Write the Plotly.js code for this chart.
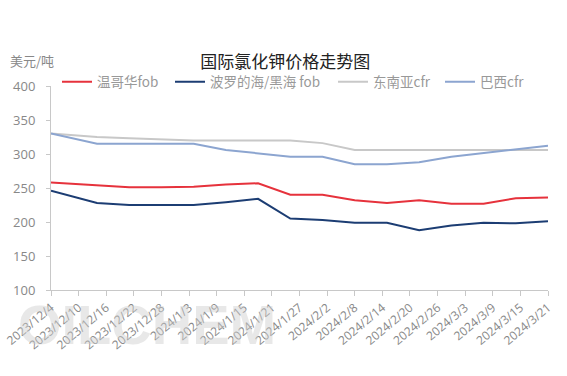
<!DOCTYPE html>
<html>
<head>
<meta charset="utf-8">
<script src="https://cdn.plot.ly/plotly-3.0.1.min.js"></script>
<style>html,body{margin:0;padding:0;background:#fff;}#chart{width:567px;height:376px;}</style>
</head>
<body>
<div id="chart"></div>
<script>
const dates = ['2023-12-04','2023-12-14','2023-12-21','2023-12-28','2024-01-04','2024-01-11','2024-01-18','2024-01-25','2024-02-01','2024-02-08','2024-02-15','2024-02-22','2024-02-29','2024-03-07','2024-03-14','2024-03-21'];
const vancouverFob = [258, 254, 251, 251, 252, 255, 257, 240, 240, 232, 228, 232, 227, 227, 235, 236];
const balticBlackSeaFob = [246, 228, 225, 225, 225, 229, 234, 205, 203, 199, 199, 188, 195, 199, 198, 201];
const seAsiaCfr = [330, 325, 323, 321, 320, 320, 320, 320, 316, 306, 306, 306, 306, 306, 306, 306];
const brazilCfr = [330, 315, 315, 315, 315, 306, 301, 296, 296, 285, 285, 288, 296, 301, 306, 312];
const tickDates = ['2023-12-04','2023-12-10','2023-12-16','2023-12-22','2023-12-28','2024-01-03','2024-01-09','2024-01-15','2024-01-21','2024-01-27','2024-02-02','2024-02-08','2024-02-14','2024-02-20','2024-02-26','2024-03-03','2024-03-09','2024-03-15','2024-03-21'];
const tickLabels = ['2023/12/4','2023/12/10','2023/12/16','2023/12/22','2023/12/28','2024/1/3','2024/1/9','2024/1/15','2024/1/21','2024/1/27','2024/2/2','2024/2/8','2024/2/14','2024/2/20','2024/2/26','2024/3/3','2024/3/9','2024/3/15','2024/3/21'];
const seriesNames = ['温哥华fob','波罗的海/黑海 fob','东南亚cfr','巴西cfr'];
const seriesColors = ['#e6323c','#1c3d73','#c8c8c8','#8ca5d0'];
const seriesValues = [vancouverFob, balticBlackSeaFob, seAsiaCfr, brazilCfr];
const legendIds = ['legend','legend2','legend3','legend4'];
const legendX = [57, 170, 333, 440];

const traces = seriesValues.map((v, i) => ({
  x: dates, y: v, type: 'scatter', mode: 'lines', name: seriesNames[i], legend: legendIds[i],
  line: {color: seriesColors[i], width: 2}, hoverinfo: 'skip'
}));

const layout = {
  width: 567, height: 376,
  margin: {l: 51, r: 19, t: 86, b: 86, autoexpand: false},
  paper_bgcolor: '#fff', plot_bgcolor: '#fff',
  font: {family: '"Noto Sans CJK SC", "Noto Sans", sans-serif', color: '#888', size: 12},
  title: {text: '国际氯化钾价格走势图', x: 0.503, xref: 'container', xanchor: 'center', y: 1 - 62/376, yref: 'container', yanchor: 'middle',
    font: {size: 17, color: '#222', family: '"Noto Sans CJK SC", sans-serif'}},
  showlegend: true,
  xaxis: {
    type: 'date', range: ['2023-12-04', '2024-03-21'],
    tickmode: 'array', tickvals: tickDates, ticktext: tickLabels, tickangle: -40,
    showgrid: false, zeroline: false, showline: true, linecolor: '#c8c8c8', linewidth: 1,
    ticks: 'outside', ticklen: 5, tickcolor: '#c8c8c8',
    tickfont: {size: 12, color: '#888', family: '"Open Sans", "Noto Sans", sans-serif'}
  },
  yaxis: {
    range: [100, 400], tickvals: [100, 150, 200, 250, 300, 350, 400],
    showgrid: false, zeroline: false, showline: true, linecolor: '#c8c8c8', linewidth: 1,
    ticks: 'outside', ticklen: 4, tickcolor: '#c8c8c8', ticklabelstandoff: 8,
    tickfont: {size: 13, color: '#888', family: '"Open Sans", "Noto Sans", sans-serif'}
  },
  annotations: [
    {text: 'OILCHEM', xref: 'paper', yref: 'paper', x: (16-51)/497, xanchor: 'left', y: -34/204, yanchor: 'middle', showarrow: false,
      font: {size: 56, color: 'rgba(205,205,205,0.45)', family: 'Arial, "Liberation Sans", sans-serif', weight: 'bold'}},
    {text: '美元/吨', xref: 'paper', yref: 'paper', x: (8-51)/497, xanchor: 'left', y: (290-60)/204, yanchor: 'middle', showarrow: false,
      font: {size: 13, color: '#888', family: '"Noto Sans CJK SC", sans-serif'}}
  ]
};
legendIds.forEach((id, i) => {
  layout[id] = {orientation: 'h', x: legendX[i]/567, xref: 'container', xanchor: 'left', y: 1 - 82/376, yref: 'container', yanchor: 'middle',
    font: {size: 13.5, color: '#999', family: '"Noto Sans CJK SC", sans-serif'}, itemwidth: 30, bgcolor: 'rgba(0,0,0,0)'};
});

Plotly.newPlot('chart', traces, layout, {displayModeBar: false, staticPlot: true});
</script>
</body>
</html>
